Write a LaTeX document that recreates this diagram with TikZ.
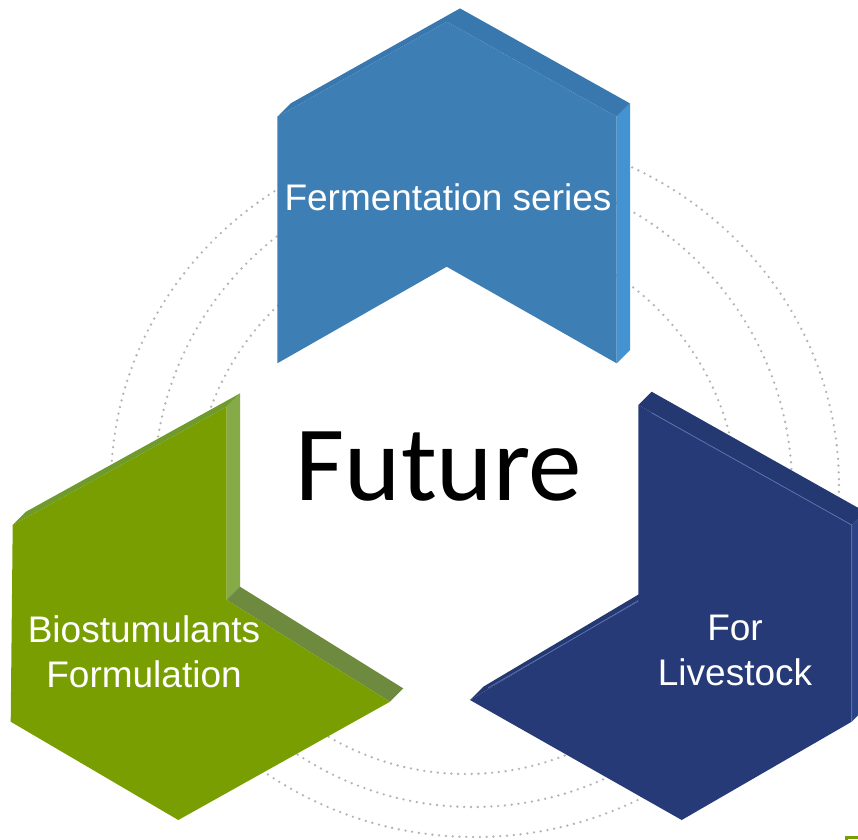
\documentclass[tikz,border=0pt]{standalone}
\usepackage{fontspec}
\setmainfont{Liberation Sans}
\newfontfamily\calibri{Carlito}

\definecolor{ferm}{HTML}{3D7FB5}
\definecolor{fermtop}{HTML}{3978AE}
\definecolor{fermside}{HTML}{4393D3}
\definecolor{bio}{HTML}{789E02}
\definecolor{biotop}{HTML}{6F9A2C}
\definecolor{bioside}{HTML}{86AA48}
\definecolor{biolow}{HTML}{6D8A3E}
\definecolor{live}{HTML}{263A77}
\definecolor{livetop}{HTML}{243872}
\definecolor{liveside}{HTML}{2C4385}
\definecolor{livelight}{HTML}{5A70B0}
\definecolor{ringgray}{HTML}{B4B4B4}

\tikzset{
  ring/.style={draw=ringgray, line width=2.6pt, line cap=round, dash pattern=on 0pt off 6.8pt},
  tagtext/.style={text=white, font=\fontsize{37}{45}\selectfont, align=center, inner sep=0pt}
}

\begin{document}
\begin{tikzpicture}[x=1pt,y=-1pt]
\useasboundingbox (0,0) rectangle (858,839);
\clip (0,0) rectangle (858,839);

% dotted rings
\draw[ring] (466,502) circle[radius=272];
\draw[ring] (473,488) circle[radius=319];
\draw[ring] (475,485) ellipse[x radius=364, y radius=352];

% fermentation block
\fill[fermtop] (277.3,116.7) -- (446.7,21.7) -- (616.7,116.7) -- (630,103.4) -- (460,8.4) -- (290.6,103.4) -- cycle;
\fill[fermside] (616.7,116.7) -- (630,103.4) -- (630,350) -- (616.7,363.3) -- cycle;
\fill[ferm] (277.3,116.7) -- (446.7,21.7) -- (616.7,116.7) -- (616.7,363.3) -- (446.7,266.7) -- (277.3,363.3) -- cycle;

% biostimulants block
\fill[biotop] (12.7,525) -- (226.7,406.7) -- (240,393.4) -- (26,511.7) -- cycle;
\fill[bioside] (226.7,406.7) -- (240,393.4) -- (240,586.7) -- (226.7,600) -- cycle;
\fill[biolow] (226.7,600) -- (240,586.7) -- (403.3,688.4) -- (390,701.7) -- cycle;
\fill[bio] (12.7,525) -- (226.7,406.7) -- (226.7,600) -- (390,701.7) -- (178.3,820) -- (10.7,721.7) -- cycle;

% livestock block
\fill[livetop] (638.3,405) -- (651.6,391.7) -- (865,511.7) -- (851.7,525) -- cycle;
\fill[liveside] (851.7,525) -- (865,511.7) -- (865,708.4) -- (851.7,721.7) -- cycle;
\fill[livetop] (638.3,600) -- (651.6,586.7) -- (483.3,686.7) -- (470,700) -- cycle;
\fill[live] (638.3,405) -- (851.7,525) -- (851.7,721.7) -- (681.7,820) -- (470,700) -- (638.3,600) -- cycle;
\draw[livelight, line width=0.8pt] (652,413) -- (851.7,525) -- (851.7,721.7);
\draw[livelight, line width=0.8pt] (488,688) -- (638.3,601);

\draw[bio, line width=3pt] (846,840) -- (846,837.5) -- (860,837.5);

\node[tagtext, anchor=base] (fermlabel) at (448,210) {Fermentation series};
\node[tagtext, anchor=north] (biolabel) at (144,615) {Biostumulants\\Formulation};
\node[tagtext, anchor=north] (livelabel) at (735,615) {For\\Livestock};
\node[font=\calibri\fontsize{107}{110}\selectfont, anchor=base, inner sep=0pt] (future) at (439,500) {Future};

\end{tikzpicture}
\end{document}
